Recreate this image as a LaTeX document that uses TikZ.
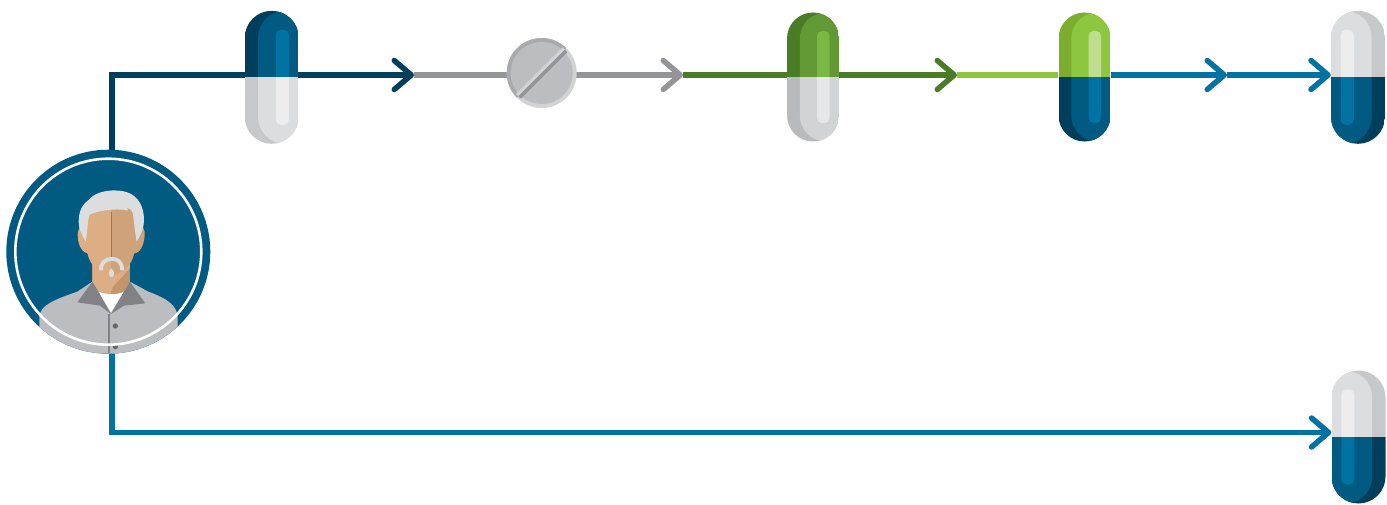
\documentclass[tikz,border=0pt]{standalone}
\usepackage{tikz}
\usetikzlibrary{arrows.meta,backgrounds}
\definecolor{navyA}{HTML}{003F5C}
\definecolor{navyB}{HTML}{005A82}
\definecolor{navyC}{HTML}{0073A3}
\definecolor{paleA}{HTML}{C7C8CA}
\definecolor{paleB}{HTML}{DCDDDF}
\definecolor{paleC}{HTML}{EDEDEE}
\definecolor{dimA}{HTML}{B9BABC}
\definecolor{dimB}{HTML}{D1D3D4}
\definecolor{dimC}{HTML}{E6E7E8}
\definecolor{leafA}{HTML}{4A7C26}
\definecolor{leafB}{HTML}{629935}
\definecolor{leafC}{HTML}{78B843}
\definecolor{limeA}{HTML}{7DAD2E}
\definecolor{limeB}{HTML}{8DC63F}
\definecolor{limeC}{HTML}{BEDD8F}
\definecolor{greyline}{HTML}{939598}
\definecolor{skinA}{HTML}{DDAE83}
\definecolor{skinB}{HTML}{CFA27A}
\definecolor{skinC}{HTML}{C4946A}
\definecolor{shirt}{HTML}{BCBDC0}
\definecolor{collar}{HTML}{808285}
\tikzset{
  flowline/.style={line width=5.5pt},
  flowtip/.style={flowline,-{Straight Barb[length=17pt,width=29pt,round]}},
  pillbox/.style={minimum width=54pt,minimum height=133pt,inner sep=0pt},
  pillslim/.style={minimum width=52pt,minimum height=129pt,inner sep=0pt}
}
% name-free drawing of a capsule: position, options, top colours, bottom colours
\newcommand{\drawpill}[5]{
  \begin{scope}[shift={(#1)},#2]
    \begin{scope}
      \clip[rounded corners=#3] (-27,-66.5) rectangle (27,66.5);
      \fill[#4A] (-27,-67) rectangle (27,0);
      \fill[#5A] (-27,0) rectangle (27,67);
      \clip[rounded corners=#3] (-13.7,-66.5) rectangle (40,66.5);
      \fill[#4B] (-27,-67) rectangle (27,0);
      \fill[#5B] (-27,0) rectangle (27,67);
    \end{scope}
    \begin{scope}
      \clip[rounded corners=5pt] (4.2,-47.5) rectangle (17.2,47.5);
      \fill[#4C] (0,-50) rectangle (20,0);
      \fill[#5C] (0,0) rectangle (20,50);
    \end{scope}
  \end{scope}
}

\begin{document}
\begin{tikzpicture}[x=1pt,y=-1pt]
  \useasboundingbox (0,0) rectangle (1387,504);
  \coordinate (rowtop) at (0,75);
  \coordinate (rowlow) at (0,432.5);
  \node[circle,fill=navyB,minimum size=204pt,inner sep=0pt] (person) at (108.3,251.7) {};
  \node[pillbox] (pillA) at (271.7,77.3) {};
  \node[circle,fill=dimB,minimum size=70pt,inner sep=0pt] (tablet) at (541.7,73) {};
  \node[pillslim] (pillB) at (813,77) {};
  \node[pillslim] (pillC) at (1084.5,77) {};
  \node[pillbox] (pillD) at (1358,77.3) {};
  \node[pillbox] (pillE) at (1358.5,437) {};
  \coordinate (tipA) at (414,75);
  \coordinate (tipB) at (683,75);
  \coordinate (tipC) at (957,75);
  \coordinate (tipD) at (1227,75);

  \begin{scope}[on background layer]
    \draw[flowtip,navyC] (person.-88) |- (pillE.west |- rowlow);
    \draw[flowtip,navyC] (tipD) -- (pillD.west |- rowtop);
    \draw[flowtip,navyC] (pillC.east |- rowtop) -- (tipD);
    \draw[flowline,limeB] (tipC) -- (pillC.west |- rowtop);
    \draw[flowtip,leafA] (tipB) -- (tipC);
    \draw[flowtip,greyline] (tipA) -- (tipB);
    \draw[flowtip,navyA] (person.88) |- (tipA);
  \end{scope}

  % capsules
  \drawpill{pillA}{}{27pt}{navy}{pale}
  \drawpill{pillB}{xscale=.963,yscale=.97}{26pt}{leaf}{dim}
  \drawpill{pillC}{xscale=.963,yscale=.97}{26pt}{lime}{navy}
  \drawpill{pillD}{xscale=-1}{27pt}{pale}{navy}
  \drawpill{pillE}{xscale=-1}{27pt}{pale}{navy}

  % tablet
  \begin{scope}[shift={(tablet.center)}]
    \begin{scope}
      \clip (0,0) circle (35);
      \fill[greyline!80!white] (-40,40)--(40,-40)--(-40,-40)--cycle;
    \end{scope}
    \fill[shirt] (0,0) circle (31);
    \begin{scope}
      \clip (0,0) circle (33);
      \draw[line width=3.4pt,dimB] (-26.2,23.8)--(23.8,-26.2);
      \draw[line width=3.4pt,greyline] (-23.8,26.2)--(26.2,-23.8);
    \end{scope}
  \end{scope}

  % person, in units of a third of a pixel
  \begin{scope}[shift={(0,140)},x=.3333pt,y=-.3333pt]
    \begin{scope}
      \clip (person.center) circle (306);
      \fill[shirt] (118,640)--(118,530) .. controls (122,495) and (160,480) .. (232,455)
        --(277,425)--(390,425)--(445,455) .. controls (500,475) and (530,495) .. (533,530)--(533,640)--cycle;
    \end{scope}
    \fill[skinB] (277,360)--(277,425)--(333,515)--(390,425)--(390,360)--cycle;
    \fill[skinA] (277,360)--(277,425)--(333,515)--(333,470)--(390,415)--(390,360)--cycle;
    \fill[skinC] (390,385)--(340,440)--(333,455)--(333,515)--(390,425)--cycle;
    \fill[white] (295,455) .. controls (320,465) and (350,465) .. (372,455)--(333,517)--cycle;
    \fill[collar] (277,425)--(232,487)--(300,497)--(333,522)--(295,455)--cycle;
    \fill[collar] (390,425)--(436,490)--(372,497)--(333,522)--(372,455)--cycle;
    \draw[collar,line width=1.6pt] (327,522)--(327,640);
    \fill[collar!80!black] (346,558) circle (8) (346,620) circle (8);
    % face
    \fill[skinB] (333,200)--(333,405) .. controls (370,402) and (395,375) .. (403,340)
      .. controls (425,340) and (436,300) .. (434,275)--(405,200)--cycle;
    \fill[skinA] (333,200)--(333,405) .. controls (296,402) and (270,375) .. (262,340)
      .. controls (240,335) and (230,300) .. (234,275)--(262,200)--cycle;
    \draw[skinC!80!black,line width=.5pt] (333,215)--(333,355);
    \draw[paleB,line width=3.8pt] (304,391) .. controls (295,350) and (370,340) .. (366,391);
    \fill[paleB] (334,385) .. controls (322,395) and (328,412) .. (334,412)
      .. controls (342,412) and (348,395) .. (334,385)--cycle;
    % hair
    \fill[paleB] (257,305) .. controls (245,285) and (236,265) .. (236,245)
      .. controls (236,210) and (250,190) .. (268,178)
      .. controls (290,150) and (350,145) .. (385,158)
      .. controls (415,170) and (432,200) .. (432,240)
      .. controls (432,265) and (420,290) .. (410,305)
      .. controls (405,280) and (402,240) .. (398,218)
      .. controls (392,205) and (385,205) .. (380,205)
      .. controls (386,212) and (385,212) .. (375,210)
      .. controls (345,205) and (290,212) .. (268,225)
      .. controls (262,250) and (262,280) .. (257,305)--cycle;
    \draw[white,line width=2.6pt] (person.center) circle (279);
  \end{scope}
\end{tikzpicture}
\end{document}
